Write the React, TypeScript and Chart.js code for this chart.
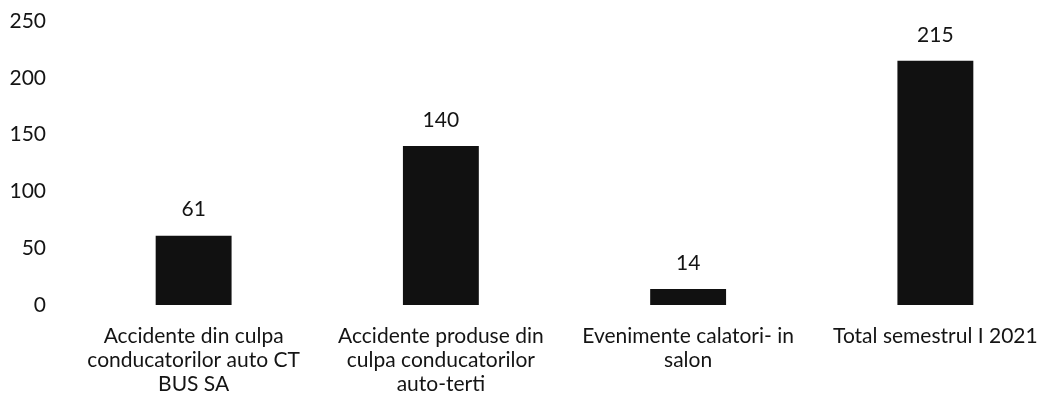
import React, { useEffect, useRef } from "react";
import { Chart, registerables } from "chart.js";

Chart.register(...registerables);

const categories: string[][] = [
  ["Accidente din culpa", "conducatorilor auto CT", "BUS SA"],
  ["Accidente produse din", "culpa conducatorilor", "auto-terti"],
  ["Evenimente calatori- in", "salon"],
  ["Total semestrul I 2021"],
];
const values: number[] = [61, 140, 14, 215];
const yTicks: number[] = [0, 50, 100, 150, 200, 250];

const FONT = "Lato, 'Open Sans', sans-serif";
const TEXT = "#141414";

const valueLabels = {
  id: "valueLabels",
  afterDatasetsDraw(chart: any) {
    const ctx = chart.ctx;
    const meta = chart.getDatasetMeta(0);
    ctx.save();
    ctx.font = `21px ${FONT}`;
    ctx.fillStyle = TEXT;
    ctx.textAlign = "center";
    ctx.textBaseline = "middle";
    meta.data.forEach((bar: any, i: number) => {
      ctx.fillText(String(values[i]), bar.x, bar.y - 26);
    });
    ctx.restore();
  },
};

export default function App() {
  const ref = useRef<HTMLCanvasElement | null>(null);
  useEffect(() => {
    document.body.style.margin = "0";
    document.body.style.overflow = "hidden";
    const chart = new Chart(ref.current!, {
      type: "bar",
      data: {
        labels: categories,
        datasets: [
          {
            data: values,
            backgroundColor: "#111111",
            borderWidth: 0,
            barPercentage: 0.307,
            categoryPercentage: 1,
          },
        ],
      },
      options: {
        animation: false,
        responsive: false,
        maintainAspectRatio: false,
        layout: { padding: { top: 21, right: 2, bottom: 0, left: 0 } },
        plugins: { legend: { display: false }, tooltip: { enabled: false } },
        scales: {
          x: {
            afterFit: (s: any) => {
              s.height = 98;
              s.paddingTop = 0;
              s.paddingBottom = 0;
            },
            grid: { display: false, drawTicks: false },
            border: { display: false },
            ticks: {
              color: TEXT,
              font: { family: FONT, size: 21, lineHeight: 1.15 },
              padding: 19,
              maxRotation: 0,
              autoSkip: false,
            },
          },
          y: {
            min: 0,
            max: 250,
            afterFit: (s: any) => {
              s.width = 70;
              s.paddingTop = 0;
              s.paddingBottom = 0;
            },
            afterBuildTicks: (s: any) => {
              s.ticks = yTicks.map((v) => ({ value: v }));
            },
            grid: { display: false, drawTicks: false },
            border: { display: false },
            ticks: {
              color: TEXT,
              font: { family: FONT, size: 21 },
              padding: 24,
            },
          },
        },
      },
      plugins: [valueLabels],
    });
    return () => chart.destroy();
  }, []);
  return (
    <div style={{ width: 1043, height: 403, overflow: "hidden", background: "#fff" }}>
      <canvas ref={ref} width={1061} height={403} style={{ display: "block" }} />
    </div>
  );
}
